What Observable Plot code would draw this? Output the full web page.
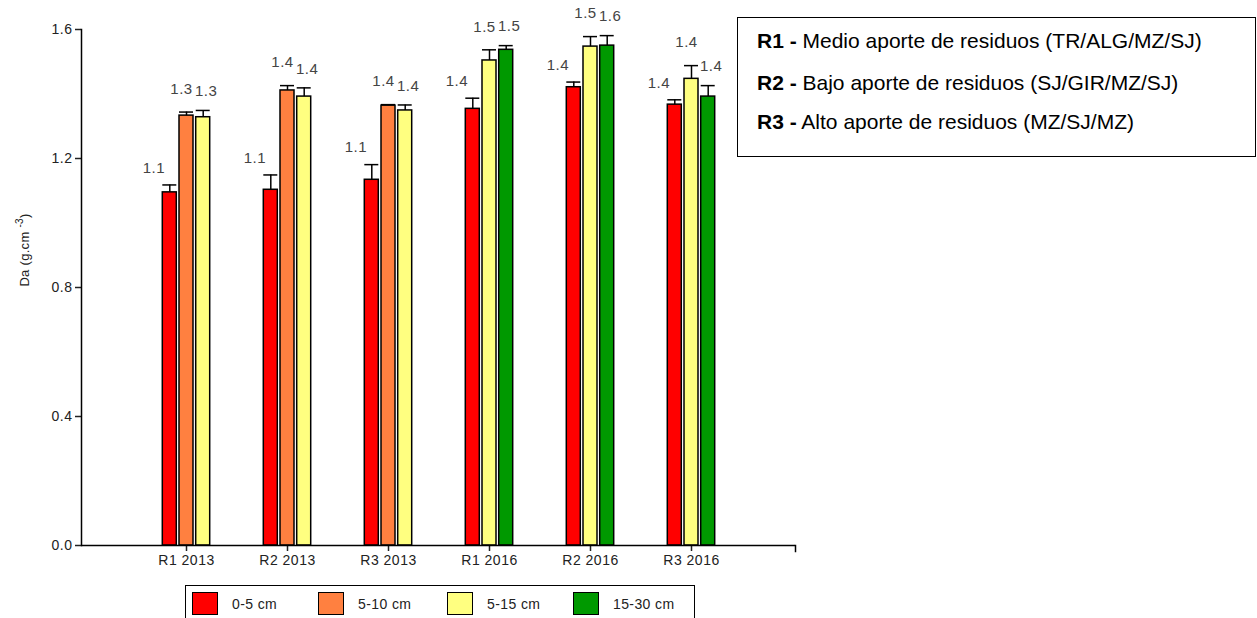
<!DOCTYPE html>
<html>
<head>
<meta charset="utf-8">
<script src="https://cdn.jsdelivr.net/npm/d3@7"></script>
<script src="https://cdn.jsdelivr.net/npm/@observablehq/plot@0.6"></script>
<style>
  html, body { margin: 0; padding: 0; background: #fff; }
  #wrap { position: relative; width: 1257px; height: 618px; overflow: hidden; font-family: "Liberation Sans", Arial, sans-serif; }
  #chart { position: absolute; left: 0; top: 0; }
  #ylab { position: absolute; left: 23px; top: 250px; transform: translate(-50%, -50%) rotate(-90deg); font-size: 13px; color: #222; white-space: nowrap; letter-spacing: 0.3px; }
  #ylab sup { font-size: 10px; }
  #legend { position: absolute; left: 185px; top: 585px; width: 510px; height: 40px; border: 1.5px solid #000; box-sizing: border-box; }
  .item { position: absolute; top: 6px; height: 23px; display: flex; align-items: center; }
  .sw { width: 24px; height: 21px; border: 1.5px solid #000; box-sizing: content-box; }
  .lt { margin-left: 14px; font-size: 14px; color: #222; letter-spacing: 0.4px; }
  #info { position: absolute; left: 737px; top: 17px; width: 519px; height: 140px; border: 1.5px solid #000; box-sizing: border-box; }
  .line { position: absolute; left: 19px; font-size: 21px; color: #000; white-space: nowrap; transform: translateY(-50%); }
</style>
</head>
<body>
<div id="wrap">
  <div id="chart"></div>
  <div id="ylab">Da (g.cm <sup>-3</sup>)</div>
  <div id="legend"></div>
  <div id="info"></div>
</div>
<script>
// ---- data ----
const groups = ["R1 2013", "R2 2013", "R3 2013", "R1 2016", "R2 2016", "R3 2016"];
const depths = ["0-5 cm", "5-10 cm", "5-15 cm", "15-30 cm"];
const colors = ["#ff0000", "#ff8040", "#ffff80", "#009900"];

const mean_0_5   = [1.095, 1.103, 1.134, 1.354, 1.421, 1.367];
const mean_5_10  = [1.333, 1.411, 1.364, null, null, null];
const mean_5_15  = [1.328, 1.392, 1.349, 1.504, 1.547, 1.447];
const mean_15_30 = [null, null, null, 1.537, 1.550, 1.392];

const err_0_5   = [0.023, 0.046, 0.047, 0.033, 0.016, 0.015];
const err_5_10  = [0.011, 0.015, 0.003, null, null, null];
const err_5_15  = [0.021, 0.027, 0.017, 0.033, 0.031, 0.041];
const err_15_30 = [null, null, null, 0.013, 0.031, 0.034];

const lab_0_5   = ["1.1", "1.1", "1.1", "1.4", "1.4", "1.4"];
const lab_5_10  = ["1.3", "1.4", "1.4", null, null, null];
const lab_5_15  = ["1.3", "1.4", "1.4", "1.5", "1.5", "1.4"];
const lab_15_30 = [null, null, null, "1.5", "1.6", "1.4"];

const yTicks = [0, 0.4, 0.8, 1.2, 1.6];

const infoLines = [
  ["R1 -", " Medio aporte de residuos (TR/ALG/MZ/SJ)"],
  ["R2 -", " Bajo aporte de residuos (SJ/GIR/MZ/SJ)"],
  ["R3 -", " Alto aporte de residuos (MZ/SJ/MZ)"]
];

// ---- table ----
const means = [mean_0_5, mean_5_10, mean_5_15, mean_15_30];
const errs = [err_0_5, err_5_10, err_5_15, err_15_30];
const labs = [lab_0_5, lab_5_10, lab_5_15, lab_15_30];
const rows = [];
groups.forEach((g, i) => {
  let slot = 0;
  depths.forEach((dep, j) => {
    const v = means[j][i];
    if (v == null) return;
    rows.push({group: g, depth: dep, value: v, err: errs[j][i], top: v + errs[j][i], label: labs[j][i], slot: slot++});
  });
});

// bar offsets within a group, and label offsets per bar position
const slotDx = [-16.7, 0, 16.7];
const labelDx = [-16, -5, 3];
const labelDy = [-17, -23, -19];
const marks = [];
slotDx.forEach((dx, s) => {
  const data = rows.filter(d => d.slot === s);
  marks.push(Plot.barY(data, {x: "group", y: "value", fill: "depth", stroke: "#000", strokeWidth: 1.5, dx}));
  marks.push(Plot.ruleX(data, {x: "group", y1: "value", y2: "top", stroke: "#000", strokeWidth: 1.5, dx}));
  marks.push(Plot.tickY(data, {x: "group", y: "top", stroke: "#000", strokeWidth: 1.5, dx}));
  marks.push(Plot.text(data, {x: "group", y: "top", text: "label", dx: dx + labelDx[s], dy: labelDy[s], fill: "#444", fontSize: 15}));
});

const chart = Plot.plot({
  width: 800,
  height: 580,
  marginTop: 29,
  marginBottom: 35,
  marginLeft: 81,
  marginRight: 5,
  style: {fontFamily: "Liberation Sans, Arial, sans-serif", fontSize: "14px", color: "#222", letterSpacing: "0.5px", background: "transparent"},
  x: {type: "band", domain: groups, paddingInner: 0.862, paddingOuter: 0.94, label: null},
  y: {domain: [0, 1.6], label: null},
  color: {domain: depths, range: colors},
  marks: [
    ...marks,
    Plot.axisY({ticks: yTicks, tickFormat: d3.format(".1f"), tickSize: 6, tickPadding: 3, label: null, strokeWidth: 1.5}),
    Plot.axisX({tickSize: 6, tickPadding: 4, label: null, strokeWidth: 1.5}),
    Plot.frame({anchor: "left", stroke: "#000", strokeWidth: 1.5}),
    Plot.frame({anchor: "right", stroke: "#000", strokeWidth: 1.5, insetTop: 516, insetBottom: -6}),
    Plot.ruleY([0], {stroke: "#000", strokeWidth: 1.5})
  ]
});
document.getElementById("chart").appendChild(chart);

// ---- bottom legend ----
const legend = document.getElementById("legend");
const itemX = [6, 132, 261, 387];
depths.forEach((dep, j) => {
  const it = document.createElement("div");
  it.className = "item";
  it.style.left = itemX[j] + "px";
  const sw = document.createElement("div");
  sw.className = "sw";
  sw.style.background = colors[j];
  const t = document.createElement("span");
  t.className = "lt";
  t.textContent = dep;
  it.appendChild(sw); it.appendChild(t);
  legend.appendChild(it);
});

// ---- info box ----
const info = document.getElementById("info");
const lineY = [23, 65, 104];
infoLines.forEach((l, i) => {
  const d = document.createElement("div");
  d.className = "line";
  d.style.top = lineY[i] + "px";
  const b = document.createElement("b");
  b.textContent = l[0];
  d.appendChild(b);
  d.appendChild(document.createTextNode(l[1]));
  info.appendChild(d);
});
</script>
</body>
</html>
